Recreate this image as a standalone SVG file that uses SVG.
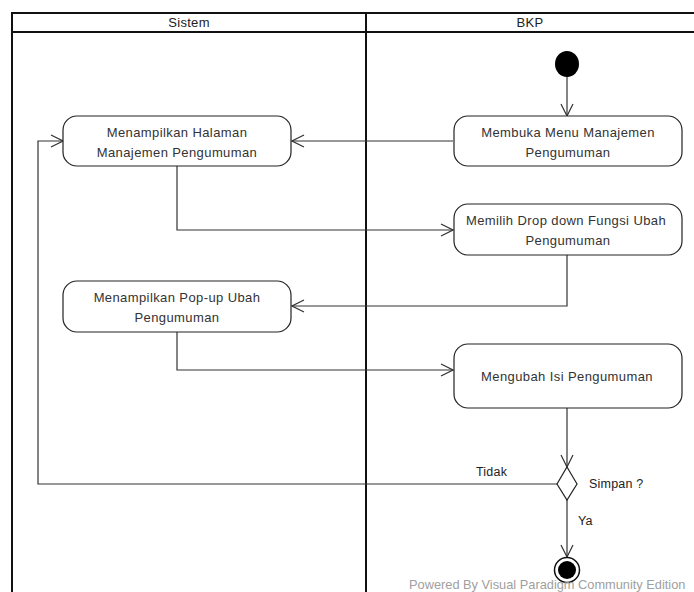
<svg xmlns="http://www.w3.org/2000/svg" width="694" height="592" viewBox="0 0 694 592">
<defs>
<style>
.lane{fill:none;stroke:#111;stroke-width:2}
.act{fill:#fff;stroke:#222;stroke-width:1.2}
.t{font-family:"Liberation Sans",Arial,sans-serif;font-size:13px;letter-spacing:0.4px;fill:#333;text-anchor:middle}
.h{font-family:"Liberation Sans",Arial,sans-serif;font-size:13px;letter-spacing:0.3px;fill:#222;text-anchor:middle}
.lbl{font-family:"Liberation Sans",Arial,sans-serif;font-size:12.5px;letter-spacing:0.2px;fill:#222}
.c{fill:none;stroke:#333;stroke-width:1.2}
</style>
<marker id="arr" viewBox="0 0 14 14" refX="13" refY="7" markerWidth="14" markerHeight="14" markerUnits="userSpaceOnUse" orient="auto">
<path d="M1,1 L13,7 L1,13" fill="none" stroke="#333" stroke-width="1.2"/>
</marker>
</defs>
<rect width="694" height="592" fill="#fff"/>
<g id="swimlanes">
<line class="lane" x1="12" y1="13" x2="694" y2="13"/>
<line class="lane" x1="12" y1="32" x2="694" y2="32"/>
<line class="lane" x1="12" y1="12" x2="12" y2="592"/>
<line class="lane" x1="366" y1="12" x2="366" y2="592"/>
<text class="h" x="189" y="27">Sistem</text>
<text class="h" x="530" y="27">BKP</text>
</g>
<g id="connectors">
<path class="c" d="M567,76 L567,116" marker-end="url(#arr)"/>
<path class="c" d="M453,141 L292,141" marker-end="url(#arr)"/>
<path class="c" d="M177,166 L177,230 L453,230" marker-end="url(#arr)"/>
<path class="c" d="M567,255 L567,306 L292,306" marker-end="url(#arr)"/>
<path class="c" d="M177,332 L177,370 L453,370" marker-end="url(#arr)"/>
<path class="c" d="M567,408 L567,467" marker-end="url(#arr)"/>
<path class="c" d="M558,484 L38,484 L38,141 L63,141" marker-end="url(#arr)"/>
<path class="c" d="M567,500 L567,557" marker-end="url(#arr)"/>
<text class="lbl" x="476" y="476">Tidak</text>
<text class="lbl" x="589" y="488">Simpan ?</text>
<text class="lbl" x="578" y="525">Ya</text>
</g>
<g id="start">
<ellipse cx="567" cy="64" rx="12" ry="13" fill="#000"/>
</g>
<g id="n_halaman">
<rect class="act" x="63" y="116" width="228" height="50" rx="14"/>
<text class="t" x="177" y="137">Menampilkan Halaman</text>
<text class="t" x="177" y="157">Manajemen Pengumuman</text>
</g>
<g id="n_membuka">
<rect class="act" x="454" y="116" width="228" height="50" rx="14"/>
<text class="t" x="568" y="137">Membuka Menu Manajemen</text>
<text class="t" x="568" y="157">Pengumuman</text>
</g>
<g id="n_dropdown">
<rect class="act" x="454" y="204" width="228" height="51" rx="14"/>
<text class="t" x="566" y="225">Memilih Drop down Fungsi Ubah</text>
<text class="t" x="568" y="245">Pengumuman</text>
</g>
<g id="n_popup">
<rect class="act" x="63" y="281" width="228" height="51" rx="14"/>
<text class="t" x="177" y="302">Menampilkan Pop-up Ubah</text>
<text class="t" x="177" y="322">Pengumuman</text>
</g>
<g id="n_mengubah">
<rect class="act" x="454" y="344" width="228" height="64" rx="14"/>
<text class="t" x="567" y="381">Mengubah Isi Pengumuman</text>
</g>
<g id="decision">
<polygon class="act" points="567,467 577,484 567,500 557,484"/>
</g>
<g id="end">
<circle cx="567" cy="570" r="12.5" fill="#fff" stroke="#111" stroke-width="1.5"/>
<circle cx="567" cy="570" r="9" fill="#000"/>
</g>
<text x="409" y="589" style="font-family:'Liberation Sans',Arial,sans-serif;font-size:12.8px;fill:#a0a0a0">Powered By  Visual Paradigm Community Edition</text>
</svg>
